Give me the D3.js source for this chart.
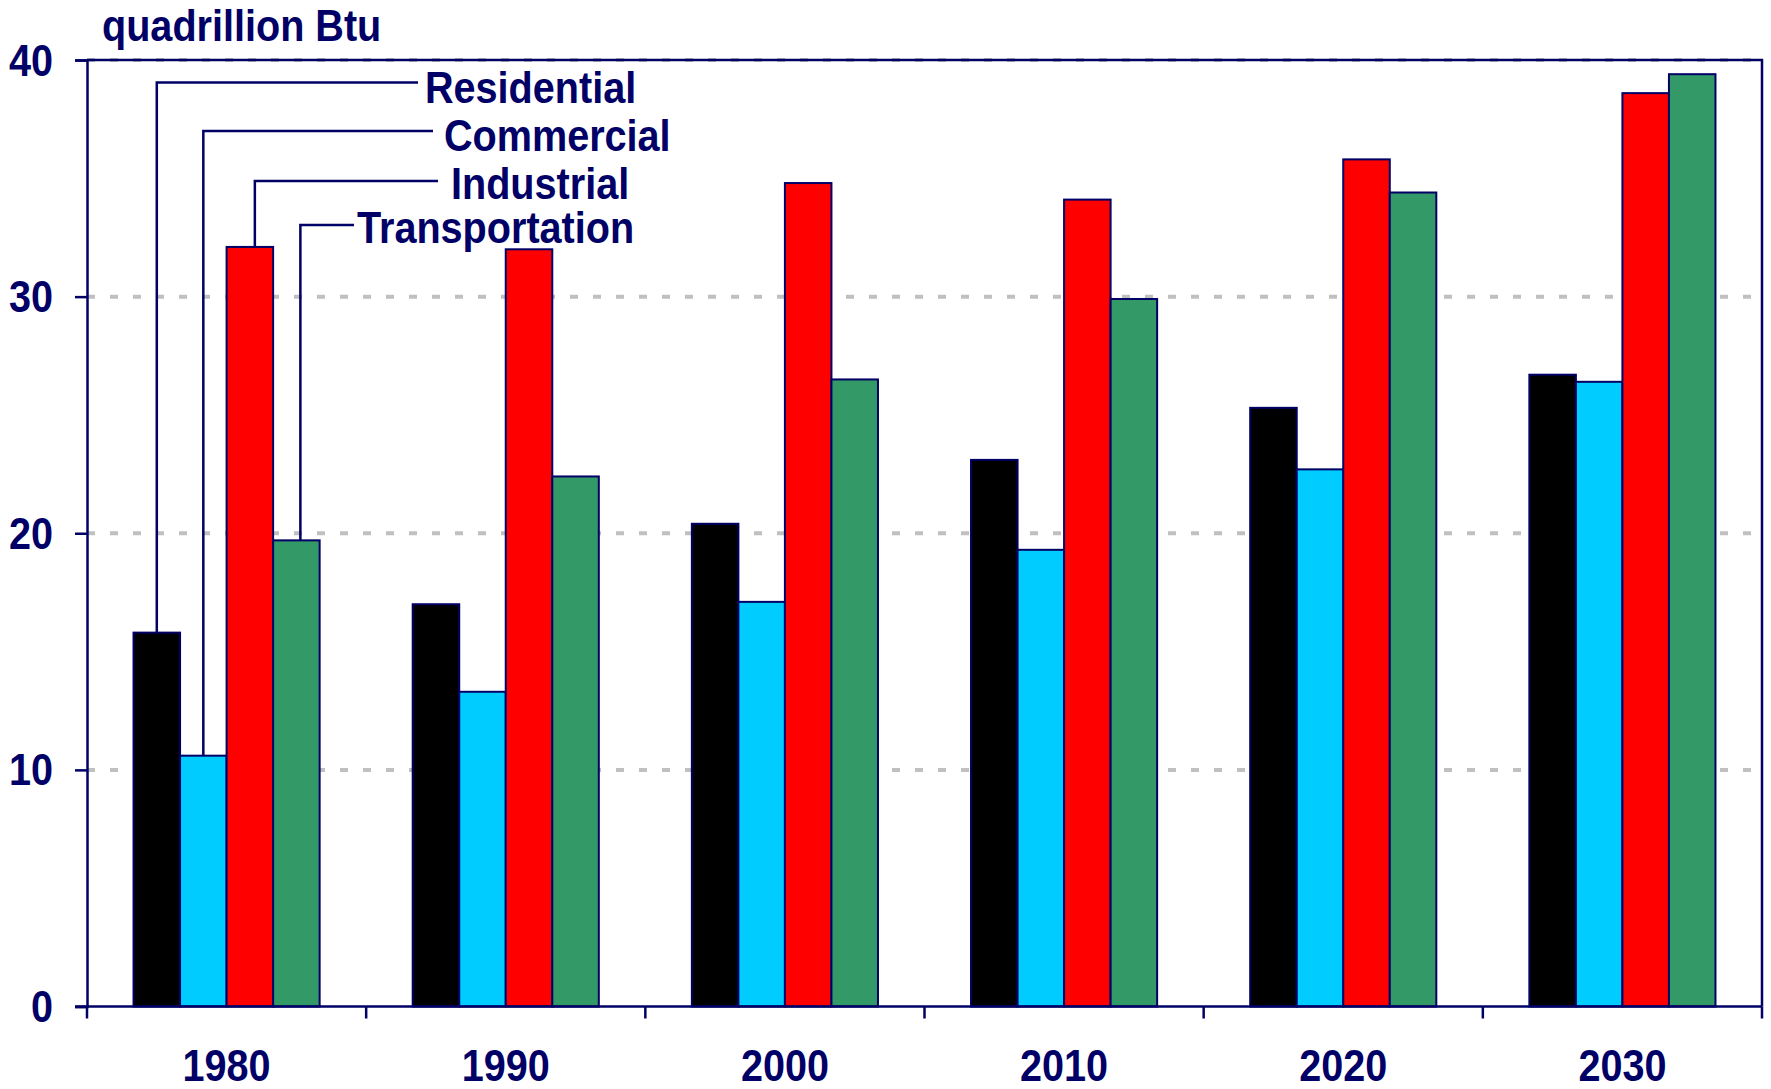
<!DOCTYPE html>
<html>
<head>
<meta charset="utf-8">
<script src="https://cdn.jsdelivr.net/npm/d3@7"></script>
<style>
  body { margin: 0; background: #fff; }
  text { font-family: Arial, "Liberation Sans", sans-serif; font-weight: bold; fill: #000066; }
</style>
</head>
<body>
<svg id="chart" width="1771" height="1089"></svg>
<script>
// data
const years = ["1980", "1990", "2000", "2010", "2020", "2030"];
const sectors = ["Residential", "Commercial", "Industrial", "Transportation"];
const residential = [15.8, 17.0, 20.4, 23.1, 25.3, 26.7];
const commercial = [10.6, 13.3, 17.1, 19.3, 22.7, 26.4];
const industrial = [32.1, 32.0, 34.8, 34.1, 35.8, 38.6];
const transportation = [19.7, 22.4, 26.5, 29.9, 34.4, 39.4];
const yTicks = [0, 10, 20, 30, 40];

const series = [residential, commercial, industrial, transportation];
const colors = ["#000000", "#00ccff", "#ff0000", "#339966"];
const navy = "#000066";

// plot box
const plotLeft = 87, plotRight = 1762, plotTop = 60, plotBottom = 1006.5;
const squeeze = 0.9; // text in the picture is a bit narrow

const svg = d3.select("#chart");

const x0 = d3.scaleBand().domain(years).range([plotLeft, plotRight]);
const x1 = d3.scaleBand().domain(sectors).range([0, x0.bandwidth()]).paddingOuter(1);
const y = d3.scaleLinear().domain([0, 40]).range([plotBottom, plotTop]);

// gridlines
svg.append("g")
  .selectAll("line")
  .data(yTicks.filter(d => d > 0))
  .join("line")
  .attr("x1", plotLeft).attr("x2", plotRight)
  .attr("y1", d => y(d)).attr("y2", d => y(d))
  .attr("stroke", "#c0c0c0")
  .attr("stroke-width", 4)
  .attr("stroke-dasharray", "8,15");

// top and right border of the plot area
svg.append("path")
  .attr("d", `M${plotLeft},${y(40)}H${plotRight}V${plotBottom}`)
  .attr("fill", "none")
  .attr("stroke", navy)
  .attr("stroke-width", 2.5);

// bars
const groups = svg.append("g")
  .selectAll("g")
  .data(years)
  .join("g")
  .attr("transform", d => `translate(${x0(d)},0)`);

groups.selectAll("rect")
  .data((yr, i) => sectors.map((s, j) => ({ s, j, v: series[j][i] })))
  .join("rect")
  .attr("x", d => x1(d.s))
  .attr("y", d => y(d.v))
  .attr("width", x1.bandwidth())
  .attr("height", d => y(0) - y(d.v))
  .attr("fill", d => colors[d.j])
  .attr("stroke", navy)
  .attr("stroke-width", 2);

// y axis
const yAxis = svg.append("g")
  .attr("transform", `translate(${plotLeft},0)`)
  .call(d3.axisLeft(y).tickValues(yTicks).tickSize(12).tickFormat(""));
yAxis.select(".domain").attr("stroke", navy).attr("stroke-width", 2.5);
yAxis.selectAll(".tick line").attr("stroke", navy).attr("stroke-width", 2.5);

svg.append("g")
  .selectAll("text")
  .data(yTicks)
  .join("text")
  .attr("text-anchor", "end")
  .attr("font-size", 44)
  .attr("transform", d => `translate(53,${y(d) + 15.5}) scale(${squeeze},1)`)
  .text(d => d);

// x axis line and category boundary ticks
svg.append("line")
  .attr("x1", plotLeft - 12).attr("x2", plotRight)
  .attr("y1", plotBottom).attr("y2", plotBottom)
  .attr("stroke", navy).attr("stroke-width", 2.5);

const bounds = years.map(d => x0(d)).concat([plotRight]);
svg.append("g")
  .selectAll("line")
  .data(bounds)
  .join("line")
  .attr("x1", d => d).attr("x2", d => d)
  .attr("y1", plotBottom).attr("y2", plotBottom + 12)
  .attr("stroke", navy).attr("stroke-width", 2.5);

svg.append("g")
  .selectAll("text")
  .data(years)
  .join("text")
  .attr("text-anchor", "middle")
  .attr("font-size", 44)
  .attr("transform", d => `translate(${x0(d) + x0.bandwidth() / 2},1081) scale(${squeeze},1)`)
  .text(d => d);

// unit label
svg.append("text")
  .attr("font-size", 44)
  .attr("transform", `translate(102,41) scale(${squeeze},1)`)
  .text("quadrillion Btu");

// leader-line labels on the 1980 bars
const leaderY = [82.5, 131, 181, 225];
const leaderEnd = [418, 433, 438, 354];
const labelX = [425, 444, 451, 357];
const labelY = [103, 151, 199, 243];
const leaderNudge = [0, 0, 5, 4];

const first = years[0];
const leaders = svg.append("g");
sectors.forEach((s, j) => {
  const cx = x0(first) + x1(s) + x1.bandwidth() / 2 + leaderNudge[j];
  leaders.append("path")
    .attr("d", `M${cx},${y(series[j][0])}V${leaderY[j]}H${leaderEnd[j]}`)
    .attr("fill", "none")
    .attr("stroke", navy)
    .attr("stroke-width", 2.5);
  leaders.append("text")
    .attr("font-size", 44)
    .attr("transform", `translate(${labelX[j]},${labelY[j]}) scale(${squeeze},1)`)
    .text(s);
});
</script>
</body>
</html>
